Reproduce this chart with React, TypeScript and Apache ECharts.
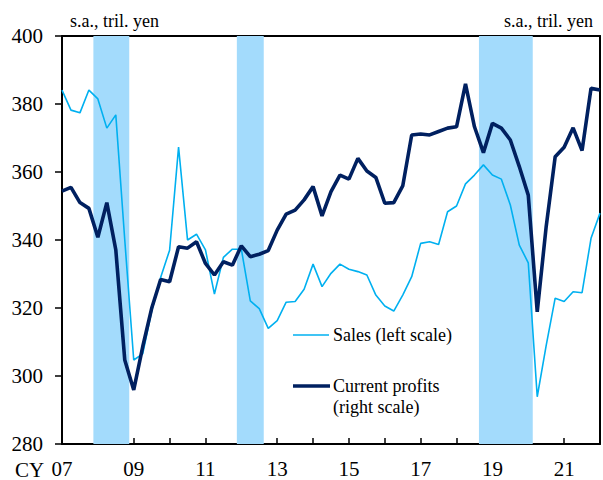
import React, { useEffect, useRef } from "react";
import * as echarts from "echarts";

// Quarterly, 2007Q1 .. 2022Q1 (x in years: 2007 + i/4)
const startYear = 2007;
const sales = [
  384.1, 378.2, 377.4, 384.1, 381.5, 372.9, 376.8, 340.0,
  304.7, 306.5, 319.0, 329.0, 337.0, 367.3, 340.0, 341.7,
  337.1, 324.1, 334.9, 337.3, 337.3, 322.1, 319.8, 314.0,
  316.3, 321.7, 321.9, 325.5, 332.9, 326.3, 330.2, 332.9,
  331.4, 330.7, 329.7, 323.8, 320.6, 319.1, 323.8, 329.2,
  339.0, 339.5, 338.7, 348.3, 350.0, 356.5, 359.1, 362.1,
  359.1, 357.9, 350.3, 338.5, 333.3, 293.9, 309.0, 322.9,
  321.9, 324.8, 324.5, 340.5, 347.9,
];
const profits = [
  354.4, 355.5, 351.0, 349.3, 340.8, 351.0, 337.1, 304.7,
  295.9, 308.6, 319.9, 328.4, 327.7, 338.0, 337.6, 339.5,
  333.1, 329.7, 333.6, 332.6, 338.3, 335.1, 335.8, 336.9,
  342.9, 347.6, 348.8, 351.8, 355.7, 347.1, 354.2, 359.1,
  357.9, 364.0, 360.3, 358.4, 350.8, 351.0, 355.9, 370.9,
  371.2, 370.9, 371.9, 372.9, 373.3, 385.9, 373.3, 365.7,
  374.3, 372.9, 369.4, 361.6, 353.2, 318.9, 344.0, 364.5,
  367.3, 373.0, 366.3, 384.6, 384.1,
];
// Shaded recession periods (in years)
const bands: [number, number][] = [
  [2007.875, 2008.875],
  [2011.875, 2012.625],
  [2018.625, 2020.125],
];
const seriesNames = ["Sales (left scale)", "Current profits", "(right scale)"];
const unitLabel = "s.a., tril. yen";
const xPrefix = "CY";

const FONT = "'Liberation Serif', 'Times New Roman', serif";

export default function App() {
  const ref = useRef<HTMLDivElement>(null);
  useEffect(() => {
    document.body.style.margin = "0";
    const chart = echarts.init(ref.current!, undefined, { renderer: "svg" });
    const toXY = (arr: number[]) => arr.map((v, i) => [startYear + i / 4, v]);
    chart.setOption({
      animation: false,
      textStyle: { fontFamily: FONT },
      grid: { left: 62, right: 2, top: 36, bottom: 36, containLabel: false },
      xAxis: [
        {
          type: "value",
          min: 2007,
          max: 2022,
          interval: 1,
          axisLine: { show: true, onZero: false, lineStyle: { color: "#000", width: 2 } },
          axisTick: { show: true, inside: true, length: 6, lineStyle: { color: "#000", width: 1.5 } },
          axisLabel: {
            margin: 14,
            fontSize: 21,
            color: "#000",
            fontFamily: FONT,
            formatter: (v: number) => (Math.round(v) % 2 === 1 ? String(Math.round(v) % 100).padStart(2, "0") : ""),
            showMaxLabel: true,
            showMinLabel: true,
          },
          splitLine: { show: false },
        },
        {
          type: "value",
          position: "top",
          min: 2007,
          max: 2022,
          axisLine: { show: true, onZero: false, lineStyle: { color: "#000", width: 2 } },
          axisTick: { show: false },
          axisLabel: { show: false },
          splitLine: { show: false },
        },
      ],
      yAxis: [
        {
          type: "value",
          min: 280,
          max: 400,
          interval: 20,
          axisLine: { show: true, onZero: false, lineStyle: { color: "#000", width: 2 } },
          axisTick: { show: true, inside: false, length: 7, lineStyle: { color: "#000", width: 1.5 } },
          axisLabel: { margin: 19, fontSize: 21, color: "#000", fontFamily: FONT },
          splitLine: { show: false },
        },
        {
          type: "value",
          position: "right",
          min: 280,
          max: 400,
          interval: 20,
          axisLine: { show: true, onZero: false, lineStyle: { color: "#000", width: 2 } },
          axisTick: { show: false },
          axisLabel: { show: false },
          splitLine: { show: false },
        },
      ],
      series: [
        {
          name: seriesNames[0],
          type: "line",
          data: toXY(sales),
          showSymbol: false,
          symbol: "none",
          lineStyle: { color: "#00b0f0", width: 1.6 },
          markArea: {
            silent: true,
            itemStyle: { color: "#a3dbfc" },
            data: bands.map(([a, b]) => [{ xAxis: a }, { xAxis: b }]),
          },
          z: 2,
        },
        {
          name: seriesNames[1],
          type: "line",
          yAxisIndex: 1,
          data: toXY(profits),
          showSymbol: false,
          symbol: "none",
          lineStyle: { color: "#002060", width: 3.6 },
          z: 3,
        },
      ],
      graphic: [
        {
          type: "text",
          left: 70,
          top: 12,
          style: { text: unitLabel, font: `18px ${FONT}`, fill: "#000" },
        },
        {
          type: "text",
          right: 10,
          top: 12,
          style: { text: unitLabel, font: `18px ${FONT}`, fill: "#000" },
        },
        {
          type: "text",
          left: 15,
          top: 459,
          style: { text: xPrefix, font: `21px ${FONT}`, fill: "#000" },
        },
        {
          type: "line",
          shape: { x1: 293, y1: 335, x2: 329, y2: 335 },
          style: { stroke: "#00b0f0", lineWidth: 1.6 },
        },
        {
          type: "text",
          x: 333,
          y: 335,
          style: { text: seriesNames[0], font: `18px ${FONT}`, fill: "#000", verticalAlign: "middle" },
        },
        {
          type: "line",
          shape: { x1: 293, y1: 386, x2: 330, y2: 386 },
          style: { stroke: "#002060", lineWidth: 3.6 },
        },
        {
          type: "text",
          x: 333,
          y: 386,
          style: { text: seriesNames[1], font: `18px ${FONT}`, fill: "#000", verticalAlign: "middle" },
        },
        {
          type: "text",
          x: 333,
          y: 407,
          style: { text: seriesNames[2], font: `18px ${FONT}`, fill: "#000", verticalAlign: "middle" },
        },
      ],
    });
    return () => chart.dispose();
  }, []);
  return <div ref={ref} style={{ width: 603, height: 480 }} />;
}
